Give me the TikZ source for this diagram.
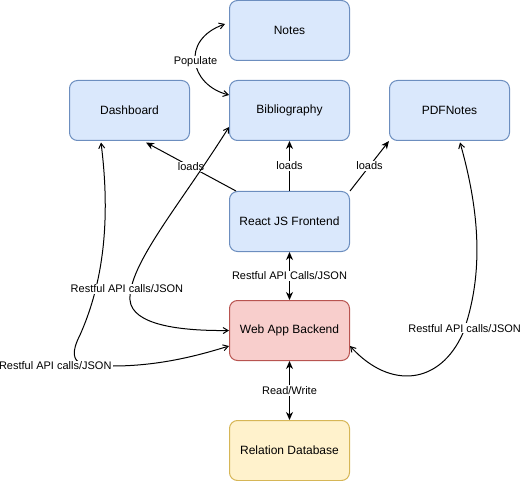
\documentclass[tikz,border=0pt]{standalone}
\usepackage{fontspec}
\setmainfont{Liberation Sans}
\usetikzlibrary{arrows.meta, calc}

\definecolor{bluefill}{HTML}{DAE8FC}
\definecolor{blueline}{HTML}{6C8EBF}
\definecolor{redfill}{HTML}{F8CECC}
\definecolor{redline}{HTML}{B85450}
\definecolor{yellowfill}{HTML}{FFF2CC}
\definecolor{yellowline}{HTML}{D6B656}

\begin{document}
\begin{tikzpicture}[x=1pt, y=-1pt, line width=1pt,
    every node/.style={font=\fontsize{12}{14}\selectfont},
    box/.style={rectangle, rounded corners=8pt, draw=blueline, fill=bluefill,
        minimum width=120pt, minimum height=60pt, inner sep=0pt},
    lbl/.style={fill=white, inner sep=1pt, font=\fontsize{11}{13}\selectfont},
    load/.style={-{Stealth[length=8pt, width=7pt, inset=2.5pt]}},
    both/.style={{Stealth[length=8pt, width=7pt, inset=2.5pt]}-{Stealth[length=8pt, width=7pt, inset=2.5pt]}},
    api/.style={{Straight Barb[length=5pt, width=6pt]}-{Straight Barb[length=5pt, width=6pt]}}]
    \useasboundingbox (0, 0) rectangle (522, 481);

    \node[box] (notes) at (289.5, 30.5) {Notes};
    \node[box] (dash) at (129.5, 110.5) {Dashboard};
    \node[box] (bib) at (289.5, 110.5) {Bibliography};
    \node[box] (pdf) at (449.5, 110.5) {PDFNotes};
    \node[box] (react) at (289.5, 221.5) {React JS Frontend};
    \node[box, draw=redline, fill=redfill] (back) at (289.5, 330.5) {Web App Backend};
    \node[box, draw=yellowline, fill=yellowfill] (db) at (289.5, 450.5) {Relation Database};

    \draw[api] ($(bib.west)+(0, -15.5)$) .. controls (190, 85) and (180, 40) .. ($(notes.west)+(-4, -6.5)$) node[lbl, pos=0.5] {Populate};

    \draw[load] ($(react.north west)+(7, 0)$) -- node[lbl] {loads} ($(dash.south)+(16.5, 1.5)$);
    \draw[load] (react.north) -- node[lbl] {loads} (bib.south);
    \draw[load] (react.north east) -- node[lbl] {loads} (pdf.south west);

    \draw[both] (react.south) -- node[lbl] {Restful API Calls/JSON} (back.north);
    \draw[both] (back.south) -- node[lbl] {Read/Write} (db.north);

    \draw[api] ($(dash.south)+(-28.5, 1.5)$) .. controls (112, 230) and (100, 290) .. (80, 335)
        .. controls (62, 370) and (90, 366) .. (113, 366) node[lbl, anchor=east] {Restful API calls/JSON}
        .. controls (160, 366) and (200, 355) .. ($(back.west)+(0, 15.5)$);
    \draw[api] ($(bib.west)+(0, 16.5)$) .. controls (180, 205) and (128, 265) .. (130, 300) node[lbl, pos=0.9, xshift=-4pt] {Restful API calls/JSON}
        .. controls (132, 325) and (180, 331) .. (back.west);
    \draw[api] ($(pdf.south)+(10.5, 1.5)$) .. controls (482, 220) and (482, 280) .. (463, 333) node[lbl, pos=0.97] {Restful API calls/JSON}
        .. controls (440, 385) and (390, 390) .. ($(back.east)+(0, 15.5)$);
\end{tikzpicture}
\end{document}
